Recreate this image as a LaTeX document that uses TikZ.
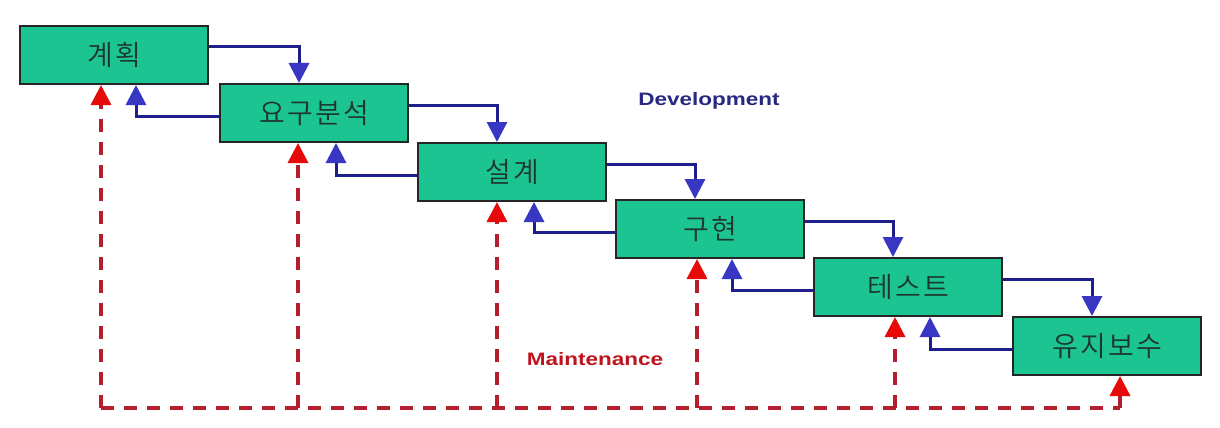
\documentclass[tikz,border=0pt]{standalone}
\usepackage{fontspec}
\setmainfont{Liberation Sans}
\newfontfamily\krfont{Noto Sans CJK KR}[UprightFont=* DemiLight, LetterSpace=8]
\usetikzlibrary{arrows.meta}
\definecolor{boxfill}{RGB}{28,196,146}
\definecolor{boxtext}{RGB}{30,55,45}
\definecolor{devline}{RGB}{30,30,140}
\definecolor{devhead}{RGB}{55,55,195}
\definecolor{devtext}{RGB}{40,40,130}
\definecolor{mline}{RGB}{180,30,45}
\definecolor{mhead}{RGB}{230,10,10}
\definecolor{mtext}{RGB}{190,20,30}
\tikzset{
  phase/.style={draw=black!85, line width=2pt, fill=boxfill, anchor=north west,
    minimum width=188pt, minimum height=58pt, inner sep=0pt,
    font=\krfont\fontsize{28}{30}\selectfont, text=boxtext},
  fwd/.style={draw=devline, line width=3pt,
    -{Triangle[width=20pt,length=20pt,fill=devhead,color=devhead]}},
  back/.style={fwd},
  maint/.style={draw=mline, line width=3.5pt, dash pattern=on 13pt off 10pt,
    -{Triangle[width=20pt,length=20pt,fill=mhead,color=mhead]}},
  bus/.style={draw=mline, line width=3.5pt, dash pattern=on 13pt off 10pt},
  lbl/.style={font=\bfseries\fontsize{18}{20}\selectfont, inner sep=0pt}
}
\begin{document}
\begin{tikzpicture}[x=1pt,y=-1pt]
\useasboundingbox[fill=white] (0,0) rectangle (1220,428);
\node[phase] (p1) at (19,25)   {계획};
\node[phase] (p2) at (219,83)  {요구분석};
\node[phase] (p3) at (417,142) {설계};
\node[phase] (p4) at (615,199) {구현};
\node[phase] (p5) at (813,257) {테스트};
\node[phase] (p6) at (1012,316){유지보수};

\node[lbl, text=devtext] (dev) at (709,101) {\scalebox{1.25}[1]{Development}};
\node[lbl, text=mtext] (mnt) at (595,359) {\scalebox{1.25}[1]{Maintenance}};

% development flow
\foreach \a/\b in {p1/p2,p2/p3,p3/p4,p4/p5,p5/p6}{
  \draw[fwd] ([yshift=-22pt]\a.north east) -| ([xshift=80pt]\b.north west);
  \draw[back] ([yshift=-33pt]\b.north west) -| ([xshift=117pt]\a.south west);
}

% maintenance bus
\coordinate (b1) at (101,408);
\coordinate (b2) at (298,408);
\coordinate (b3) at (497,408);
\coordinate (b4) at (697,408);
\coordinate (b5) at (895,408);
\coordinate (b6) at (1120,408);
\draw[bus] (b1) -- (b6);
\foreach \i in {1,...,6}{
  \draw[maint] (b\i) -- (b\i |- p\i.south);
}
\end{tikzpicture}
\end{document}
